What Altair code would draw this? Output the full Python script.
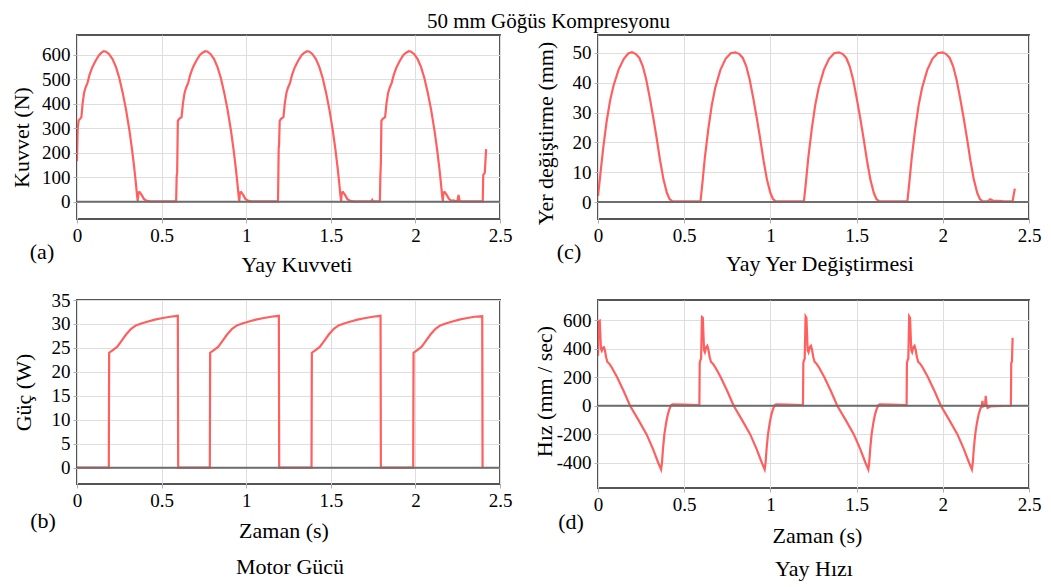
import altair as alt
import pandas as pd

FONT = "Liberation Serif"
RED = "#ff5f5f"
XTICKS = [0, 0.5, 1, 1.5, 2, 2.5]

# (a) Yay Kuvveti  -- time (s), force (N)
kuvvet_t = [0.000, 0.004, 0.010, 0.018, 0.026, 0.033, 0.042, 0.050, 0.062, 0.075, 0.090, 0.110, 0.130, 0.145, 0.158, 0.172, 0.190, 0.210, 0.230, 0.250, 0.270, 0.290, 0.310, 0.325, 0.338, 0.348, 0.355, 0.359, 0.363, 0.370, 0.382, 0.395, 0.410, 0.430, 0.500, 0.586,
            0.589, 0.592, 0.596, 0.604, 0.618, 0.626, 0.636, 0.645, 0.657, 0.670, 0.685, 0.705, 0.725, 0.742, 0.758, 0.772, 0.790, 0.810, 0.830, 0.850, 0.870, 0.890, 0.910, 0.925, 0.938, 0.948, 0.955, 0.959, 0.963, 0.970, 0.982, 0.995, 1.010, 1.030, 1.100, 1.188,
            1.190, 1.192, 1.194, 1.198, 1.206, 1.220, 1.228, 1.238, 1.247, 1.259, 1.272, 1.287, 1.307, 1.327, 1.344, 1.360, 1.374, 1.392, 1.412, 1.432, 1.452, 1.472, 1.492, 1.512, 1.527, 1.540, 1.550, 1.557, 1.561, 1.565, 1.572, 1.584, 1.597, 1.612, 1.632, 1.700, 1.740, 1.745, 1.750, 1.790,
            1.793, 1.796, 1.799, 1.807, 1.821, 1.829, 1.839, 1.848, 1.860, 1.873, 1.888, 1.908, 1.928, 1.945, 1.961, 1.975, 1.993, 2.013, 2.033, 2.053, 2.073, 2.093, 2.113, 2.128, 2.141, 2.151, 2.158, 2.162, 2.166, 2.173, 2.185, 2.198, 2.212, 2.225, 2.235, 2.248, 2.255, 2.262, 2.280, 2.398, 2.401, 2.410, 2.418]
kuvvet_v = [165, 300, 332, 338, 345, 400, 445, 465, 485, 520, 548, 575, 598, 608, 614, 612, 602, 582, 550, 505, 445, 375, 290, 215, 140, 75, 25, 3, 38, 40, 28, 12, 5, 2, 2, 2,
            105, 120, 330, 338, 345, 400, 445, 465, 485, 520, 548, 575, 598, 608, 614, 612, 602, 582, 550, 505, 445, 375, 290, 215, 140, 75, 25, 3, 38, 40, 28, 12, 5, 2, 2, 2,
            105, 220, 225, 330, 338, 345, 400, 445, 465, 485, 520, 548, 575, 598, 608, 614, 612, 602, 582, 550, 505, 445, 375, 290, 215, 140, 75, 25, 3, 38, 40, 28, 12, 5, 2, 2, 2, 8, 2, 2,
            105, 160, 330, 338, 345, 400, 445, 465, 485, 520, 548, 575, 598, 608, 614, 612, 602, 582, 550, 505, 445, 375, 290, 215, 140, 75, 25, 3, 38, 40, 28, 12, 4, 6, 3, 4, 28, 3, 2, 2, 110, 118, 215]

# (c) Yay Yer Değiştirmesi -- time (s), displacement (mm)
yer_t = [0.000, 0.015, 0.030, 0.050, 0.070, 0.090, 0.120, 0.150, 0.175, 0.197, 0.220, 0.240, 0.260, 0.280, 0.300, 0.320, 0.340, 0.360, 0.380, 0.400, 0.415, 0.430, 0.500, 0.590,
         0.595, 0.605, 0.620, 0.640, 0.660, 0.680, 0.710, 0.740, 0.770, 0.797, 0.820, 0.840, 0.860, 0.880, 0.900, 0.920, 0.940, 0.960, 0.980, 1.000, 1.015, 1.030, 1.100, 1.193,
         1.195, 1.205, 1.220, 1.240, 1.260, 1.280, 1.310, 1.340, 1.370, 1.397, 1.420, 1.440, 1.460, 1.480, 1.500, 1.520, 1.540, 1.560, 1.580, 1.600, 1.615, 1.630, 1.700, 1.793,
         1.795, 1.805, 1.820, 1.840, 1.860, 1.880, 1.910, 1.940, 1.970, 1.997, 2.020, 2.040, 2.060, 2.080, 2.100, 2.120, 2.140, 2.160, 2.180, 2.200, 2.215, 2.230, 2.260, 2.275, 2.290, 2.350, 2.405, 2.410, 2.418]
yer_v = [2, 10, 18, 27, 34, 39, 44.5, 48, 49.8, 50.2, 49.6, 48.3, 45.5, 41, 35, 28.5, 21.5, 14, 7.5, 3, 1, 0.3, 0.2, 0.2,
         0.5, 6, 15, 24.5, 32.5, 38.3, 44.3, 48, 49.9, 50.2, 49.6, 48.3, 45.5, 41, 35, 28.5, 21.5, 14, 7.5, 3, 1, 0.3, 0.2, 0.2,
         0.5, 6, 15, 24.5, 32.5, 38.3, 44.3, 48, 49.9, 50.2, 49.6, 48.3, 45.5, 41, 35, 28.5, 21.5, 14, 7.5, 3, 1, 0.3, 0.2, 0.2,
         0.5, 6, 15, 24.5, 32.5, 38.3, 44.3, 48, 49.9, 50.2, 49.6, 48.3, 45.5, 41, 35, 28.5, 21.5, 14, 7.5, 3, 1, 0.3, 0.2, 0.9, 0.5, 0.3, 0.2, 2, 4.5]

# (b) Motor Gücü -- time (s), power (W)
guc_t = [0.000, 0.188, 0.190, 0.210, 0.237, 0.260, 0.290, 0.320, 0.348, 0.380, 0.420, 0.460, 0.500, 0.550, 0.596, 0.598,
         0.785, 0.787, 0.807, 0.834, 0.857, 0.887, 0.917, 0.945, 0.977, 1.017, 1.057, 1.097, 1.147, 1.193, 1.195,
         1.386, 1.388, 1.408, 1.435, 1.458, 1.488, 1.518, 1.546, 1.578, 1.618, 1.658, 1.698, 1.748, 1.794, 1.796,
         1.987, 1.989, 2.009, 2.036, 2.059, 2.089, 2.119, 2.147, 2.179, 2.219, 2.259, 2.299, 2.349, 2.395, 2.397]
guc_v = [0, 0, 24, 24.5, 25.2, 26.3, 27.8, 29, 29.7, 30.1, 30.5, 30.9, 31.2, 31.5, 31.7, 0,
         0, 24, 24.5, 25.2, 26.3, 27.8, 29, 29.7, 30.1, 30.5, 30.9, 31.2, 31.5, 31.7, 0,
         0, 24, 24.5, 25.2, 26.3, 27.8, 29, 29.7, 30.1, 30.5, 30.9, 31.2, 31.5, 31.7, 0,
         0, 24, 24.5, 25.2, 26.3, 27.8, 29, 29.7, 30.1, 30.5, 30.9, 31.2, 31.5, 31.6, 0]

# (d) Yay Hızı -- time (s), velocity (mm/sec)
hiz_t = [0.000, 0.003, 0.010, 0.017, 0.022, 0.028, 0.034, 0.040, 0.047, 0.055, 0.063, 0.071, 0.080, 0.111, 0.150, 0.186, 0.235, 0.282, 0.318, 0.350, 0.366, 0.371, 0.377, 0.385, 0.395, 0.405, 0.415, 0.425, 0.432, 0.500, 0.588,
         0.590, 0.594, 0.598, 0.603, 0.608, 0.615, 0.620, 0.627, 0.634, 0.640, 0.648, 0.656, 0.664, 0.672, 0.681, 0.712, 0.751, 0.787, 0.836, 0.883, 0.919, 0.951, 0.967, 0.972, 0.978, 0.986, 0.996, 1.006, 1.016, 1.026, 1.033, 1.100, 1.189,
         1.191, 1.195, 1.199, 1.204, 1.209, 1.216, 1.221, 1.228, 1.235, 1.241, 1.249, 1.257, 1.265, 1.273, 1.282, 1.313, 1.352, 1.388, 1.437, 1.484, 1.520, 1.552, 1.568, 1.573, 1.579, 1.587, 1.597, 1.607, 1.617, 1.627, 1.634, 1.700, 1.790,
         1.792, 1.796, 1.800, 1.805, 1.810, 1.817, 1.822, 1.829, 1.836, 1.842, 1.850, 1.858, 1.866, 1.874, 1.883, 1.914, 1.953, 1.989, 2.038, 2.085, 2.121, 2.153, 2.169, 2.174, 2.180, 2.188, 2.198, 2.208, 2.218, 2.226, 2.230, 2.234, 2.245, 2.249, 2.254, 2.260, 2.275, 2.300, 2.395, 2.397, 2.401, 2.405]
hiz_v = [350, 590, 595, 400, 385, 405, 410, 390, 340, 305, 298, 285, 268, 200, 100, 0, -100, -200, -300, -400, -445, -400, -300, -200, -120, -60, -20, 5, 10, 8, 5,
         300, 320, 330, 620, 615, 390, 375, 410, 420, 395, 340, 305, 298, 285, 268, 200, 100, 0, -100, -200, -300, -400, -445, -400, -300, -200, -120, -60, -20, 5, 10, 8, 5,
         300, 320, 330, 625, 615, 390, 375, 410, 420, 395, 340, 305, 298, 285, 268, 200, 100, 0, -100, -200, -300, -400, -445, -400, -300, -200, -120, -60, -20, 5, 10, 8, 5,
         300, 320, 330, 625, 615, 390, 375, 410, 420, 395, 340, 305, 298, 285, 268, 200, 100, 0, -100, -200, -300, -400, -445, -400, -300, -200, -120, -60, -20, 0, 35, -5, 0, 70, 5, -15, -5, -3, 0, 300, 310, 475]


def text_layer(s, px, py, size=22, baseline="middle"):
    return alt.Chart(pd.DataFrame({"s": [s]})).mark_text(
        font=FONT, fontSize=size, color="black", align="center", baseline=baseline
    ).encode(x=alt.value(px), y=alt.value(py), text="s:N")


def panel(t, v, w, h, ydom, yticks, ytitle, ytx, yty, xtitle, xtx, xty, extras):
    df = pd.DataFrame({"t": t, "v": v})
    x = alt.X("t:Q", scale=alt.Scale(domain=[0, 2.5], nice=False, zero=False),
              axis=alt.Axis(values=XTICKS, labelExpr="'' + datum.value", title=xtitle,
                            titleX=xtx, titleY=xty, titleAlign="center", titleBaseline="middle",
                            labelPadding=3))
    yscale = alt.Scale(domain=ydom, nice=False, zero=False)
    yaxis = alt.Axis(values=yticks, labelExpr="'' + datum.value", title=ytitle,
                     titleX=ytx, titleY=yty, titleAlign="center", titleBaseline="middle",
                     titleAngle=270, labelPadding=3)
    zero = alt.Chart(pd.DataFrame({"v": [0]})).mark_rule(color="#6e6e6e", strokeWidth=2).encode(
        y=alt.Y("v:Q", scale=yscale, axis=yaxis))
    line = alt.Chart(df).mark_line(color=RED, strokeWidth=2.2, clip=True).encode(
        x=x, y=alt.Y("v:Q", scale=yscale, axis=yaxis))
    return alt.layer(line, zero, *extras).properties(width=w, height=h)


# transparent marker fixing the top-left corner of the drawing
edge = alt.Chart(pd.DataFrame({"z": [0]})).mark_rule(opacity=0, strokeWidth=1).encode(
    x=alt.value(-67.5), y=alt.value(-25.5), y2=alt.value(-10))

pa = panel(kuvvet_t, kuvvet_v, 423, 184, [-70, 680], [0, 100, 200, 300, 400, 500, 600],
           "Kuvvet (N)", -56, 102, "Yay Kuvveti", 219.5, 45,
           [text_layer("(a)", -35, 217), text_layer("50 mm Göğüs Kompresyonu", 471.5, -7, 21, "alphabetic"), edge])
pc = panel(yer_t, yer_v, 431, 184, [-5.7, 56], [0, 10, 20, 30, 40, 50],
           "Yer değiştirme (mm)", -53, 98, "Yay Yer Değiştirmesi", 221.5, 44,
           [text_layer("(c)", -29, 217)])
pb = panel(guc_t, guc_v, 423, 184, [-3.4, 35], [0, 5, 10, 15, 20, 25, 30, 35],
           "Güç (W)", -54, 92, "Zaman (s)", 206.5, 46,
           [text_layer("(b)", -34, 221), text_layer("Motor Gücü", 213, 267)])
pd_ = panel(hiz_t, hiz_v, 431, 188, [-575, 740], [-400, -200, 0, 200, 400, 600],
            "Hız (mm / sec)", -54, 91, "Zaman (s)", 219, 47,
            [text_layer("(d)", -27, 222), text_layer("Yay Hızı", 216, 269)])

chart = alt.concat(pa, pc, pb, pd_, columns=2, spacing={"row": 77, "column": 90},
                   bounds="flush", align="all").properties(
    padding=0,
    background="white",
).configure_view(
    stroke="#555555", strokeWidth=2
).configure_axis(
    labelFont=FONT, labelFontSize=19, labelColor="black",
    titleFont=FONT, titleFontSize=22, titleFontWeight="normal", titleColor="black",
    grid=True, gridColor="#dedede", gridWidth=1,
    domain=False, ticks=True, tickSize=4, tickColor="#b0b0b0",
    labelFlush=False, labelOverlap=False, labelBound=False,
)

chart.save("out.html", embed_options={"renderer": "svg", "actions": False})
